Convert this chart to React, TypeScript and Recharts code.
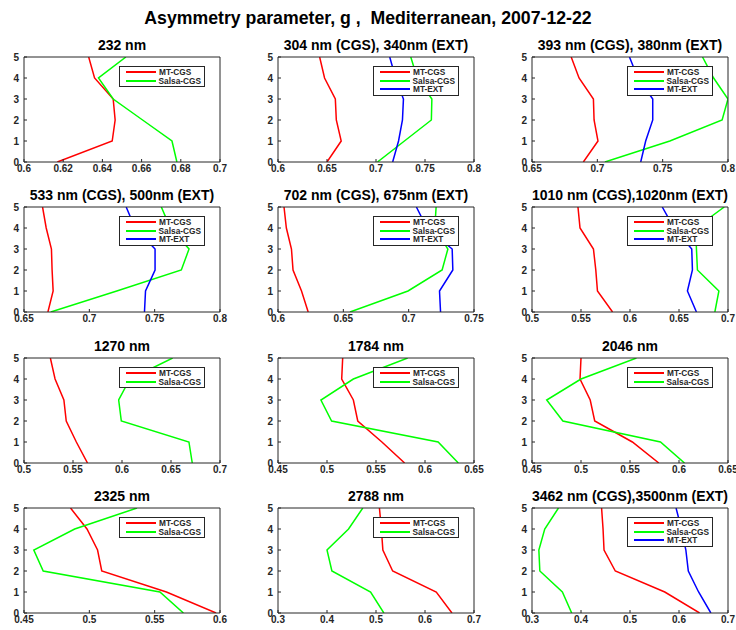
import React from 'react';
import { LineChart, Line, XAxis, YAxis, Legend } from 'recharts';

// ---------- data ----------
const ALTITUDE = [0, 1, 2, 3, 4, 5];
const ALT_TICKS = [0, 1, 2, 3, 4, 5];

const MAIN_TITLE = 'Asymmetry parameter, g ,  Mediterranean, 2007-12-22';
const PANEL_TITLES = [
  '232 nm',
  '304 nm (CGS), 340nm (EXT)',
  '393 nm (CGS), 380nm (EXT)',
  '533 nm (CGS), 500nm (EXT)',
  '702 nm (CGS), 675nm (EXT)',
  '1010 nm (CGS),1020nm (EXT)',
  '1270 nm',
  '1784 nm',
  '2046 nm',
  '2325 nm',
  '2788 nm',
  '3462 nm (CGS),3500nm (EXT)',
];
const SERIES_NAMES = ['MT-CGS', 'Salsa-CGS', 'MT-EXT'];
const SERIES_COLORS = ['#ff0000', '#00ff00', '#0000ff'];

const X_TICKS_P1 = [0.6, 0.62, 0.64, 0.66, 0.68, 0.7];
const X_TICKS_P2 = [0.6, 0.65, 0.7, 0.75, 0.8];
const X_TICKS_P3 = [0.65, 0.7, 0.75, 0.8];
const X_TICKS_P4 = [0.65, 0.7, 0.75, 0.8];
const X_TICKS_P5 = [0.6, 0.65, 0.7, 0.75];
const X_TICKS_P6 = [0.5, 0.55, 0.6, 0.65, 0.7];
const X_TICKS_P7 = [0.5, 0.55, 0.6, 0.65, 0.7];
const X_TICKS_P8 = [0.45, 0.5, 0.55, 0.6, 0.65];
const X_TICKS_P9 = [0.45, 0.5, 0.55, 0.6, 0.65];
const X_TICKS_P10 = [0.45, 0.5, 0.55, 0.6];
const X_TICKS_P11 = [0.3, 0.4, 0.5, 0.6, 0.7];
const X_TICKS_P12 = [0.3, 0.4, 0.5, 0.6, 0.7];

// values at altitude 0..5
const P1_MT_CGS = [0.617, 0.645, 0.6465, 0.6455, 0.636, 0.633];
const P1_SALSA_CGS = [0.678, 0.6755, 0.6605, 0.6455, 0.638, 0.652];

const P2_MT_CGS = [0.65, 0.6645, 0.6595, 0.6585, 0.6475, 0.6425];
const P2_SALSA_CGS = [0.7015, 0.729, 0.7565, 0.757, 0.742, 0.7355];
const P2_MT_EXT = [0.717, 0.723, 0.727, 0.728, 0.72, 0.714];

const P3_MT_CGS = [0.6893, 0.7005, 0.6975, 0.697, 0.686, 0.68];
const P3_SALSA_CGS = [0.7058, 0.7555, 0.7955, 0.8, 0.789, 0.7805];
const P3_MT_EXT = [0.7332, 0.737, 0.7424, 0.7424, 0.731, 0.7246];

const P4_MT_CGS = [0.6683, 0.6723, 0.6715, 0.671, 0.667, 0.6642];
const P4_SALSA_CGS = [0.6705, 0.721, 0.7704, 0.7763, 0.762, 0.7551];
const P4_MT_EXT = [0.7422, 0.743, 0.7503, 0.7503, 0.735, 0.7282];

const P5_MT_CGS = [0.6231, 0.618, 0.6115, 0.6103, 0.6064, 0.6046];
const P5_SALSA_CGS = [0.6551, 0.6995, 0.7256, 0.73, 0.72, 0.721];
const P5_MT_EXT = [0.7244, 0.7236, 0.7338, 0.7333, 0.714, 0.7059];

const P6_MT_CGS = [0.5822, 0.5668, 0.5651, 0.5627, 0.549, 0.5469];
const P6_SALSA_CGS = [0.6866, 0.6907, 0.6688, 0.6678, 0.667, 0.6962];
const P6_MT_EXT = [0.6678, 0.6586, 0.6637, 0.663, 0.645, 0.6329];

const P7_MT_CGS = [0.5648, 0.5534, 0.5431, 0.5407, 0.5317, 0.5269];
const P7_SALSA_CGS = [0.6717, 0.6683, 0.5993, 0.5966, 0.608, 0.6517];

const P8_MT_CGS = [0.5792, 0.556, 0.5314, 0.5269, 0.515, 0.516];
const P8_SALSA_CGS = [0.634, 0.6134, 0.5047, 0.4938, 0.5269, 0.5823];

const P9_MT_CGS = [0.5794, 0.5524, 0.514, 0.5094, 0.499, 0.5];
const P9_SALSA_CGS = [0.6056, 0.5811, 0.4815, 0.465, 0.5, 0.5566];

const P10_MT_CGS = [0.597, 0.559, 0.5095, 0.5063, 0.4982, 0.4856];
const P10_SALSA_CGS = [0.572, 0.554, 0.4647, 0.4575, 0.4888, 0.5365];

const P11_MT_CGS = [0.655, 0.623, 0.534, 0.514, 0.511, 0.507];
const P11_SALSA_CGS = [0.516, 0.489, 0.41, 0.4, 0.444, 0.473];

const P12_MT_CGS = [0.642, 0.571, 0.47, 0.447, 0.445, 0.442];
const P12_SALSA_CGS = [0.381, 0.362, 0.316, 0.314, 0.326, 0.354];
const P12_MT_EXT = [0.665, 0.64, 0.619, 0.614, 0.605, 0.594];

type PanelDef = { ticks: number[]; mt: number[]; salsa: number[]; ext?: number[] };

const PANELS: PanelDef[] = [
  { ticks: X_TICKS_P1, mt: P1_MT_CGS, salsa: P1_SALSA_CGS },
  { ticks: X_TICKS_P2, mt: P2_MT_CGS, salsa: P2_SALSA_CGS, ext: P2_MT_EXT },
  { ticks: X_TICKS_P3, mt: P3_MT_CGS, salsa: P3_SALSA_CGS, ext: P3_MT_EXT },
  { ticks: X_TICKS_P4, mt: P4_MT_CGS, salsa: P4_SALSA_CGS, ext: P4_MT_EXT },
  { ticks: X_TICKS_P5, mt: P5_MT_CGS, salsa: P5_SALSA_CGS, ext: P5_MT_EXT },
  { ticks: X_TICKS_P6, mt: P6_MT_CGS, salsa: P6_SALSA_CGS, ext: P6_MT_EXT },
  { ticks: X_TICKS_P7, mt: P7_MT_CGS, salsa: P7_SALSA_CGS },
  { ticks: X_TICKS_P8, mt: P8_MT_CGS, salsa: P8_SALSA_CGS },
  { ticks: X_TICKS_P9, mt: P9_MT_CGS, salsa: P9_SALSA_CGS },
  { ticks: X_TICKS_P10, mt: P10_MT_CGS, salsa: P10_SALSA_CGS },
  { ticks: X_TICKS_P11, mt: P11_MT_CGS, salsa: P11_SALSA_CGS },
  { ticks: X_TICKS_P12, mt: P12_MT_CGS, salsa: P12_SALSA_CGS, ext: P12_MT_EXT },
];

// ---------- layout / style ----------
const FONT = '"Liberation Sans", Arial, Helvetica, sans-serif';
const AX = '#262626';
const COL_LEFT = [24, 278, 532];
const ROW_TOP = [57, 207, 358, 508];
const PW = 196;
const PH = 105;
const ML = 40; // y-axis width
const MT = 4;
const MR = 14;
const XH = 22;

const fmt = (v: number) => String(Number(v.toFixed(2)));

const LegendBox = (props: any) => {
  const raw = (props.payload || []) as any[];
  const items = raw
    .map((it) => ({ name: String(it.value), idx: SERIES_NAMES.indexOf(String(it.value)) }))
    .filter((it) => it.idx >= 0)
    .sort((a, b) => a.idx - b.idx);
  return (
    <div
      style={{
        background: '#fff',
        border: `1px solid ${AX}`,
        padding: '1px 3px 1px 6px',
        fontFamily: FONT,
        fontWeight: 'bold',
        fontSize: 8.3,
        color: AX,
      }}
    >
      {items.map((it) => (
        <div key={it.name} style={{ display: 'flex', alignItems: 'center', height: 8.6, whiteSpace: 'nowrap' }}>
          <span
            style={{
              display: 'inline-block',
              width: 30,
              height: 0,
              borderTop: `2px solid ${SERIES_COLORS[it.idx]}`,
              marginRight: 3,
            }}
          />
          <span style={{ lineHeight: '8.6px' }}>{it.name}</span>
        </div>
      ))}
    </div>
  );
};

function Panel({ idx }: { idx: number }) {
  const p = PANELS[idx];
  const col = idx % 3;
  const row = Math.floor(idx / 3);
  const left = COL_LEFT[col];
  const top = ROW_TOP[row];
  const domain: [number, number] = [p.ticks[0], p.ticks[p.ticks.length - 1]];
  const data = ALTITUDE.map((a, i) => ({
    alt: a,
    mt: p.mt[i],
    salsa: p.salsa[i],
    ext: p.ext ? p.ext[i] : undefined,
  }));
  const W = ML + PW + MR;
  const H = MT + PH + XH;
  const legendW = 86;
  const axisLine = { stroke: AX, strokeWidth: 1 };
  const tickStyle = { fill: AX, fontSize: 10, fontWeight: 'bold', fontFamily: FONT };
  return (
    <>
      <div
        style={{
          position: 'absolute',
          left: left - 30,
          width: PW + 60,
          top: top - 20,
          textAlign: 'center',
          fontFamily: FONT,
          fontWeight: 'bold',
          fontSize: 14,
          lineHeight: '16px',
          color: '#000',
          whiteSpace: 'nowrap',
        }}
      >
        {PANEL_TITLES[idx]}
      </div>
      <div style={{ position: 'absolute', left: left - ML, top: top - MT, width: W, height: H }}>
        <LineChart layout="vertical" width={W} height={H} data={data} margin={{ top: MT, right: MR, bottom: 0, left: 0 }}>
          <XAxis
            xAxisId="b"
            type="number"
            domain={domain}
            ticks={p.ticks}
            interval={0}
            allowDataOverflow
            height={XH}
            tickSize={-3}
            tickMargin={5.5}
            axisLine={axisLine}
            tickLine={{ stroke: AX }}
            tick={tickStyle}
            tickFormatter={fmt}
          />
          <XAxis
            xAxisId="t"
            orientation="top"
            mirror
            type="number"
            domain={domain}
            ticks={p.ticks}
            interval={0}
            allowDataOverflow
            tick={false}
            tickSize={3}
            axisLine={axisLine}
            tickLine={{ stroke: AX }}
          />
          <YAxis
            yAxisId="l"
            type="number"
            dataKey="alt"
            domain={[0, 5]}
            ticks={ALT_TICKS}
            interval={0}
            reversed
            allowDataOverflow
            width={ML}
            tickSize={-3}
            tickMargin={8}
            axisLine={axisLine}
            tickLine={{ stroke: AX }}
            tick={tickStyle}
          />
          <YAxis
            yAxisId="r"
            orientation="right"
            mirror
            type="number"
            dataKey="alt"
            domain={[0, 5]}
            ticks={ALT_TICKS}
            interval={0}
            reversed
            allowDataOverflow
            tick={false}
            tickSize={3}
            axisLine={axisLine}
            tickLine={{ stroke: AX }}
          />
          <Line xAxisId="b" yAxisId="l" dataKey="mt" name={SERIES_NAMES[0]} stroke={SERIES_COLORS[0]} strokeWidth={1.5} dot={false} isAnimationActive={false} />
          <Line xAxisId="b" yAxisId="l" dataKey="salsa" name={SERIES_NAMES[1]} stroke={SERIES_COLORS[1]} strokeWidth={1.5} dot={false} isAnimationActive={false} />
          {p.ext && (
            <Line xAxisId="b" yAxisId="l" dataKey="ext" name={SERIES_NAMES[2]} stroke={SERIES_COLORS[2]} strokeWidth={1.5} dot={false} isAnimationActive={false} />
          )}
          <Legend
            layout="vertical"
            align="center"
            verticalAlign="middle"
            content={LegendBox}
            wrapperStyle={{ top: MT + 9, left: ML + PW - 15 - legendW, width: legendW, height: 'auto' }}
          />
        </LineChart>
      </div>
    </>
  );
}

export default function App() {
  return (
    <div
      style={{
        position: 'absolute',
        left: 0,
        top: 0,
        width: 736,
        height: 630,
        overflow: 'hidden',
        background: '#fff',
        fontFamily: FONT,
      }}
    >
      <div
        style={{
          position: 'absolute',
          left: 0,
          width: 736,
          top: 8,
          textAlign: 'center',
          fontFamily: FONT,
          fontWeight: 'bold',
          fontSize: 17.7,
          lineHeight: '20px',
          whiteSpace: 'pre',
          color: '#000',
        }}
      >
        {MAIN_TITLE}
      </div>
      {PANELS.map((_, i) => (
        <Panel key={i} idx={i} />
      ))}
    </div>
  );
}
